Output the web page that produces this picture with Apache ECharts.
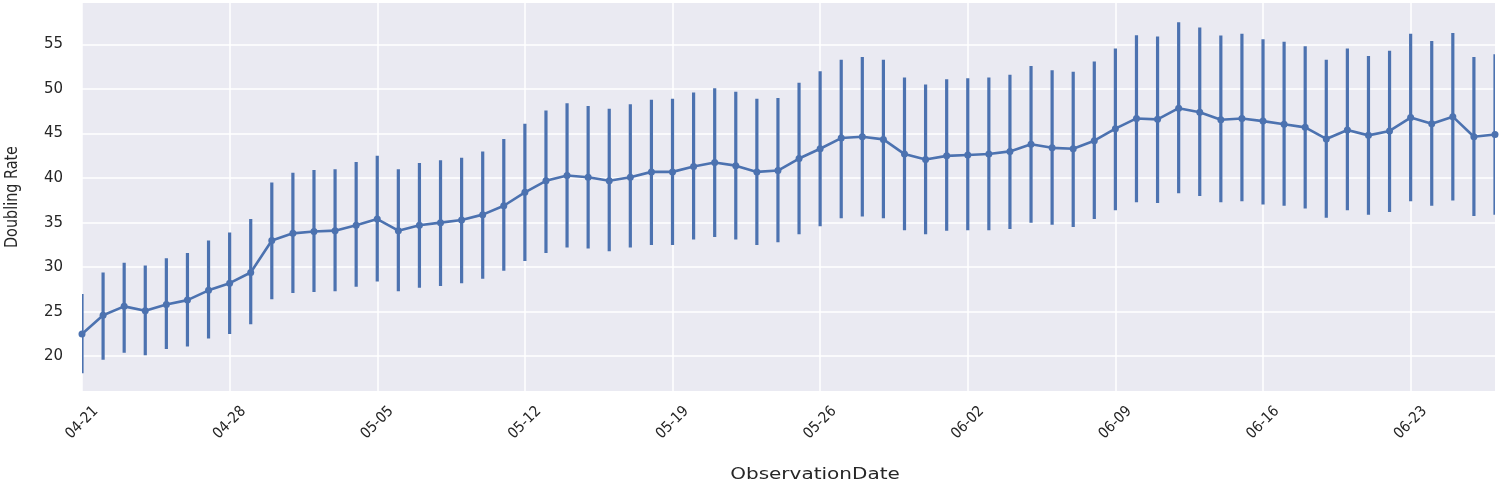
<!DOCTYPE html>
<html>
<head>
<meta charset="utf-8">
<style>
html,body{margin:0;padding:0;background:#ffffff;}
#chart{width:1500px;height:483px;}
</style>
<script src="https://cdn.jsdelivr.net/npm/echarts@6/dist/echarts.min.js"></script>
</head>
<body>
<div id="chart"></div>
<script>
const dates = [
  '04-21','04-22','04-23','04-24','04-25','04-26','04-27','04-28','04-29','04-30',
  '05-01','05-02','05-03','05-04','05-05','05-06','05-07','05-08','05-09','05-10',
  '05-11','05-12','05-13','05-14','05-15','05-16','05-17','05-18','05-19','05-20',
  '05-21','05-22','05-23','05-24','05-25','05-26','05-27','05-28','05-29','05-30',
  '05-31','06-01','06-02','06-03','06-04','06-05','06-06','06-07','06-08','06-09',
  '06-10','06-11','06-12','06-13','06-14','06-15','06-16','06-17','06-18','06-19',
  '06-20','06-21','06-22','06-23','06-24','06-25','06-26','06-27'
];
const meanRate = [
  22.5,24.6,25.6,25.1,25.8,26.3,27.4,28.2,29.4,33.0,
  33.8,34.0,34.1,34.7,35.4,34.1,34.7,35.0,35.3,35.9,
  36.9,38.4,39.7,40.3,40.1,39.7,40.1,40.7,40.7,41.3,
  41.75,41.4,40.7,40.85,42.2,43.3,44.5,44.65,44.35,42.7,
  42.1,42.5,42.6,42.7,43.0,43.8,43.4,43.3,44.2,45.55,
  46.7,46.6,47.85,47.4,46.55,46.7,46.4,46.05,45.7,44.4,
  45.4,44.8,45.3,46.8,46.1,46.9,44.65,44.9
];
const upperRate = [
  27.0,29.4,30.5,30.2,31.0,31.6,33.0,33.9,35.4,39.5,
  40.6,40.9,41.0,41.8,42.5,41.0,41.7,42.0,42.3,43.0,
  44.4,46.1,47.6,48.4,48.1,47.8,48.3,48.8,48.9,49.6,
  50.1,49.7,48.9,49.0,50.7,52.0,53.3,53.6,53.3,51.3,
  50.5,51.1,51.2,51.3,51.6,52.6,52.1,51.95,53.1,54.55,
  56.05,55.9,57.5,56.9,56.0,56.2,55.6,55.3,54.8,53.3,
  54.55,53.7,54.3,56.2,55.4,56.3,53.6,53.9
];
const lowerRate = [
  18.1,19.6,20.4,20.1,20.8,21.1,22.0,22.5,23.6,26.4,
  27.1,27.2,27.3,27.8,28.4,27.3,27.7,27.9,28.2,28.7,
  29.6,30.7,31.6,32.2,32.1,31.8,32.2,32.5,32.5,33.1,
  33.4,33.1,32.5,32.8,33.7,34.6,35.5,35.7,35.5,34.15,
  33.7,34.1,34.15,34.15,34.3,35.0,34.75,34.5,35.4,36.4,
  37.3,37.2,38.3,38.0,37.3,37.4,37.05,36.9,36.6,35.55,
  36.4,35.9,36.2,37.4,36.9,37.5,35.75,35.9
];
const yTicks = [20,25,30,35,40,45,50,55];

const BLUE = '#4C72B0';
const TEXT = '#262626';

const errData = dates.map((d, i) => [i, lowerRate[i], upperRate[i]]);

const chart = echarts.init(document.getElementById('chart'), null, {renderer: 'canvas'});
chart.setOption({
  animation: false,
  backgroundColor: '#ffffff',
  grid: { left: 82, right: 5, top: -2.09, height: 402.85, containLabel: false },
  graphic: [
    { type: 'rect', z: -10, silent: true,
      shape: { x: 82, y: 3, width: 1413, height: 388 },
      style: { fill: '#EAEAF2' } },
    { type: 'text', x: 12, y: 197, rotation: Math.PI / 2, scaleX: 1.0, scaleY: 1.15, silent: true,
      style: { text: 'Doubling Rate', fill: TEXT, fontSize: 16,
        fontFamily: '"Liberation Sans Narrow","DejaVu Sans Condensed",sans-serif',
        align: 'center', verticalAlign: 'middle', textAlign: 'center', textVerticalAlign: 'middle' } },
    { type: 'text', x: 815, y: 475, scaleX: 1.25, silent: true,
      style: { text: 'ObservationDate', fill: TEXT, fontSize: 16,
        fontFamily: '"DejaVu Sans",sans-serif',
        align: 'center', verticalAlign: 'middle', textAlign: 'center', textVerticalAlign: 'middle' } }
  ],
  xAxis: {
    type: 'category',
    data: dates,
    boundaryGap: false,
    axisLine: { show: false },
    axisTick: { show: false },
    axisLabel: {
      interval: 6, rotate: 45, margin: 22,
      align: 'center', verticalAlign: 'middle',
      color: TEXT, fontSize: 15,
      fontFamily: '"DejaVu Sans Condensed","Liberation Sans Narrow",sans-serif'
    },
    splitLine: { show: true, interval: 6, lineStyle: { color: '#ffffff', width: 1.5 } }
  },
  yAxis: {
    type: 'value',
    min: 15, max: 60, interval: 5,
    axisLine: { show: false },
    axisTick: { show: false },
    axisLabel: {
      margin: 19, color: TEXT, fontSize: 15,
      fontFamily: '"DejaVu Sans",sans-serif',
      formatter: v => yTicks.includes(v) ? String(v) : ''
    },
    splitLine: { show: true, lineStyle: { color: '#ffffff', width: 1.5 } }
  },
  series: [
    {
      type: 'custom',
      clip: true,
      data: errData,
      encode: { x: 0, y: [1, 2] },
      z: 2,
      renderItem: function (params, api) {
        const i = api.value(0);
        const p1 = api.coord([i, api.value(1)]);
        const p2 = api.coord([i, api.value(2)]);
        return {
          type: 'line',
          shape: { x1: p1[0], y1: p1[1], x2: p2[0], y2: p2[1] },
          style: { stroke: BLUE, lineWidth: 3.2 }
        };
      }
    },
    {
      type: 'line',
      data: meanRate,
      z: 3,
      symbol: 'circle',
      symbolSize: 7,
      showSymbol: true,
      clip: true,
      lineStyle: { color: BLUE, width: 2.6 },
      itemStyle: { color: BLUE }
    }
  ]
});
</script>
</body>
</html>
